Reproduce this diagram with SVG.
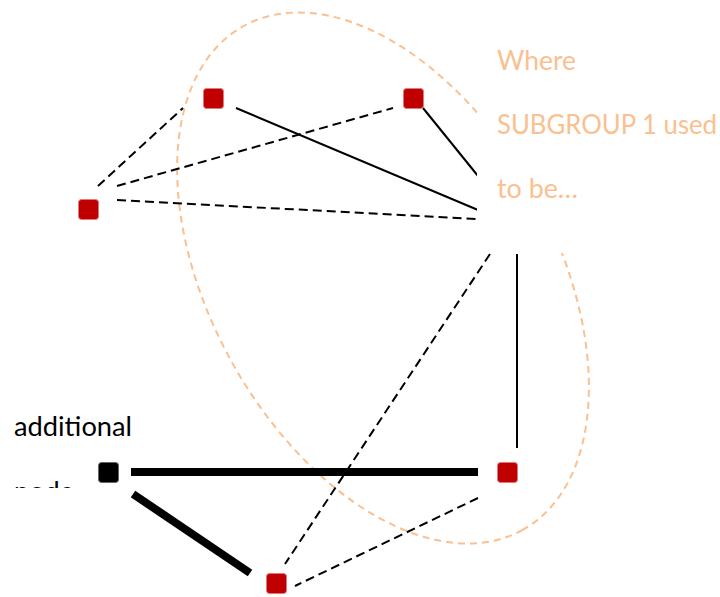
<svg xmlns="http://www.w3.org/2000/svg" width="720" height="597" viewBox="0 0 720 597">
<defs>
<style>
.thin{stroke:#000;stroke-width:2;fill:none}
.dash{stroke:#000;stroke-width:2;fill:none;stroke-dasharray:9 5}
.thick{stroke:#000;stroke-width:8;fill:none}
.red{fill:#C00000;stroke:#DE7A7A;stroke-width:1}
.blk{fill:#000;stroke:#666;stroke-width:1}
.lbl{font-family:Lato,"Liberation Sans",sans-serif;font-size:26px}
.orange{fill:#FAC090}
</style>
<clipPath id="clipNode"><rect x="0" y="0" width="200" height="488"/></clipPath>
</defs>
<rect width="720" height="597" fill="#fff"/>
<g id="subgroup-outline">
<ellipse cx="383" cy="278" rx="288" ry="173" transform="rotate(61 383 278)" fill="none" stroke="#FAC090" stroke-width="2" stroke-dasharray="7 5"/>
</g>
<g id="connectors">
<line class="dash" x1="98" y1="186" x2="183" y2="108"/>
<line class="dash" x1="117" y1="186" x2="393" y2="108"/>
<line class="dash" x1="117" y1="200" x2="476" y2="219"/>
<line class="thin" x1="236" y1="108" x2="478" y2="210"/>
<line class="thin" x1="423" y1="108" x2="478" y2="176"/>
<line class="dash" x1="490" y1="254" x2="285" y2="564"/>
<line class="thin" x1="517" y1="254" x2="517" y2="448"/>
<line class="dash" x1="478" y1="498" x2="295" y2="586"/>
<line class="thick" x1="131" y1="472" x2="478" y2="472"/>
<line class="thick" x1="133" y1="494" x2="250" y2="573"/>
</g>
<g id="node-subgroup-label">
<rect x="477" y="110" width="243" height="143" fill="#fff"/>
<text class="lbl orange" x="497" y="70" textLength="79" lengthAdjust="spacingAndGlyphs">Where</text>
<text class="lbl orange" x="497" y="134" textLength="220" lengthAdjust="spacingAndGlyphs">SUBGROUP 1 used</text>
<text class="lbl orange" x="497" y="198" textLength="81" lengthAdjust="spacingAndGlyphs">to be…</text>
</g>
<g id="node-a"><rect class="red" x="203.5" y="88.5" width="20" height="20" rx="3"/></g>
<g id="node-b"><rect class="red" x="403.5" y="88.5" width="20" height="20" rx="3"/></g>
<g id="node-c"><rect class="red" x="78.5" y="199.5" width="20" height="20" rx="3"/></g>
<g id="node-e"><rect class="red" x="497.5" y="462.5" width="20" height="20" rx="3"/></g>
<g id="node-f"><rect class="red" x="266.5" y="573.5" width="20" height="20" rx="3"/></g>
<g id="node-additional">
<rect class="blk" x="98.5" y="462.5" width="20" height="20" rx="3"/>
<text class="lbl" x="14" y="436" textLength="118" lengthAdjust="spacingAndGlyphs" fill="#000">additional</text>
<text class="lbl" x="14" y="501" textLength="60" lengthAdjust="spacingAndGlyphs" fill="#000" clip-path="url(#clipNode)">node</text>
</g>
</svg>
